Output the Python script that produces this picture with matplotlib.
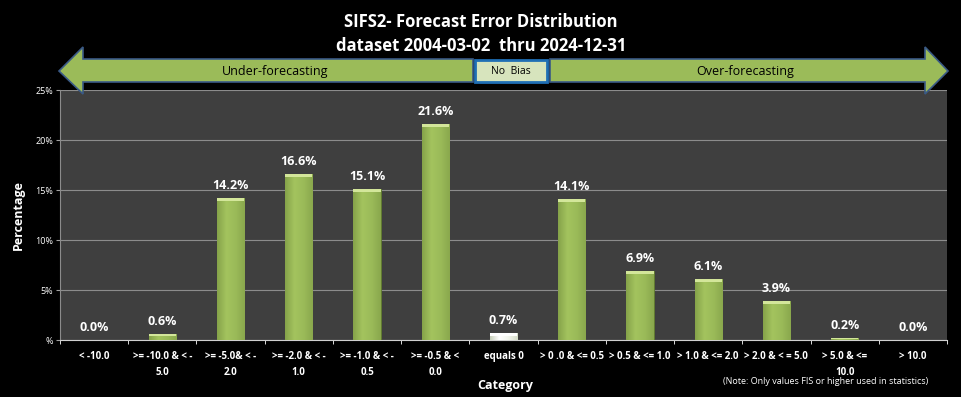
import numpy as np
import matplotlib.pyplot as plt
from matplotlib.patches import Polygon, Rectangle
from matplotlib.colors import LinearSegmentedColormap

plt.rcParams['font.family'] = ['Open Sans', 'DejaVu Sans']

categories = ["< -10.0", ">= -10.0 & < -\n5.0", ">= -5.0& < -\n2.0", ">= -2.0 & < -\n1.0",
              ">= -1.0 & < -\n0.5", ">= -0.5 & <\n0.0", "equals 0", "> 0 .0 & <= 0.5",
              "> 0.5 & <= 1.0", "> 1.0 & <= 2.0", "> 2.0 & < = 5.0", "> 5.0 & <=\n10.0", "> 10.0"]
values = [0.0, 0.6, 14.2, 16.6, 15.1, 21.6, 0.7, 14.1, 6.9, 6.1, 3.9, 0.2, 0.0]
y_ticks = [0, 5, 10, 15, 20, 25]
y_tick_labels = ["%", "5%", "10%", "15%", "20%", "25%"]

W, H = 961, 397
fig = plt.figure(figsize=(W/100, H/100), dpi=100, facecolor='black')


def fx(px):
    return px / W


def fy(py):
    return 1 - py / H


ax = fig.add_axes([fx(60), fy(340), fx(947) - fx(60), fy(90) - fy(340)])
ax.set_facecolor('#3f3f3f')

x = np.arange(len(categories))
colors = ['#9bbb59'] * len(values)
colors[6] = '#e6ecd9'
bars = ax.bar(x, values, width=0.4, color=colors, edgecolor='#5f7a2e', linewidth=0.6, zorder=3)

# horizontal shading on each bar
green = LinearSegmentedColormap.from_list('g', ['#86a34a', '#a3c35e', '#9bbb59', '#8aa84d'])
white = LinearSegmentedColormap.from_list('w', ['#c8d0bc', '#ffffff', '#f2f5ec', '#d5dcc8'])
grad = np.linspace(0, 1, 50).reshape(1, -1)
for i, b in enumerate(bars):
    if b.get_height() <= 0:
        continue
    cm = white if i == 6 else green
    im = ax.imshow(grad, cmap=cm, aspect='auto', zorder=3.5,
                   extent=[b.get_x(), b.get_x() + b.get_width(), 0, b.get_height()])
    im.set_clip_path(b)
    cap = min(0.25, b.get_height() * 0.4)
    ax.add_patch(Rectangle((b.get_x(), b.get_height() - cap), b.get_width(), cap,
                           facecolor='#d3e69a' if i != 6 else '#ffffff', edgecolor='none', zorder=3.6))

for xi, v in zip(x, values):
    ax.text(xi, v + 0.6, f"{v:.1f}%", ha='center', va='bottom', color='white',
            fontsize=9, fontweight='bold', zorder=5)

ax.set_xlim(-0.5, len(categories) - 0.5)
ax.set_ylim(0, 25)
ax.set_yticks(y_ticks)
ax.set_yticklabels(y_tick_labels, color='white', fontsize=6.5)
ax.set_xticks(x)
ax.set_xticklabels(categories, color='white', fontsize=7, fontweight='bold', linespacing=1.6)
ax.set_xticks(np.arange(len(categories) + 1) - 0.5, minor=True)
ax.tick_params(axis='x', which='major', length=0, pad=8)
ax.tick_params(axis='x', which='minor', length=3, color='white', direction='out')
ax.tick_params(axis='y', length=3, color='#a0a0a0', pad=2)
ax.grid(axis='y', color='#8c8c8c', linewidth=0.8, zorder=1)
ax.set_axisbelow(True)
for s in ['top', 'right']:
    ax.spines[s].set_visible(False)
ax.spines['left'].set_color('#8c8c8c')
ax.spines['bottom'].set_color('#d0d0d0')

fig.text(fx(18), fy(215), "Percentage", rotation=90, ha='center', va='center',
         color='white', fontsize=9, fontweight='bold')
fig.text(fx(505), fy(385), "Category", ha='center', va='center',
         color='white', fontsize=9, fontweight='bold')
fig.text(fx(826), fy(382), "(Note: Only values FIS or higher used in statistics)",
         ha='center', va='center', color='white', fontsize=6.5)

fig.text(fx(481), fy(22), "SIFS2- Forecast Error Distribution", ha='center', va='center',
         color='white', fontsize=12, fontweight='bold')
fig.text(fx(481), fy(46), "dataset 2004-03-02  thru 2024-12-31", ha='center', va='center',
         color='white', fontsize=12, fontweight='bold')

# bias arrows
left_arrow = [(59, 71), (83, 47), (83, 59), (473, 59), (473, 82), (83, 82), (83, 94)]
right_arrow = [(550, 59), (925, 59), (925, 47), (948, 71), (925, 94), (925, 82), (550, 82)]
for pts in (left_arrow, right_arrow):
    fig.patches.append(Polygon([(fx(a), fy(b)) for a, b in pts], closed=True,
                               transform=fig.transFigure, facecolor='#9bbb59',
                               edgecolor='#3a5a86', linewidth=1.2, zorder=5))
fig.patches.append(Rectangle((fx(475), fy(82)), fx(547) - fx(475), fy(60) - fy(82),
                             transform=fig.transFigure, facecolor='#d7e4bd',
                             edgecolor='#1f6fb5', linewidth=2, zorder=5))
fig.text(fx(275), fy(71), "Under-forecasting", ha='center', va='center', color='black',
         fontsize=9, zorder=6)
fig.text(fx(745), fy(71), "Over-forecasting", ha='center', va='center', color='black',
         fontsize=9, zorder=6)
fig.text(fx(511), fy(71), "No  Bias", ha='center', va='center', color='black',
         fontsize=7.5, zorder=6)

fig.savefig('out.png', dpi=100, facecolor='black')
